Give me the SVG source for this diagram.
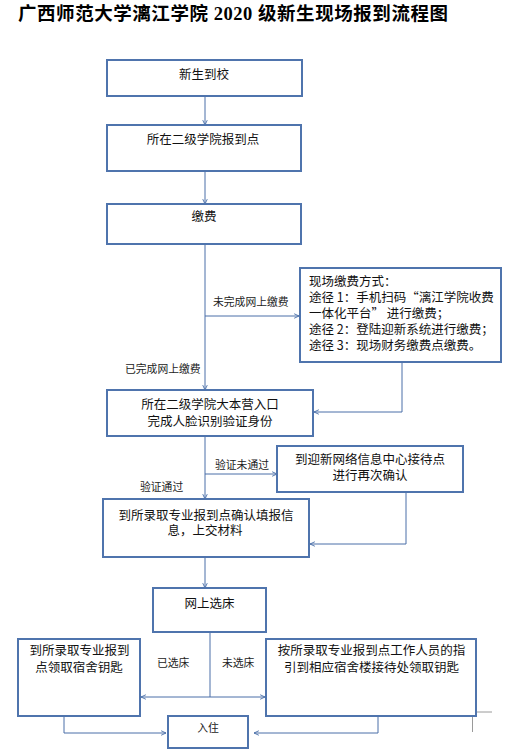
<svg xmlns="http://www.w3.org/2000/svg" width="514" height="753" viewBox="0 0 514 753">
<defs>
<marker id="arr" viewBox="0 0 8 8" refX="7.5" refY="4" markerWidth="6" markerHeight="6" orient="auto" markerUnits="userSpaceOnUse">
<path d="M1,1 L7.5,4 L1,7" fill="none" stroke="#4a6fa8" stroke-width="1.2"/>
</marker>
<style>
.box{fill:#fff;stroke:#4f74ad;stroke-width:2}
.t{font-family:"Noto Sans CJK SC","Liberation Sans",sans-serif;font-size:12.5px;fill:#111}
.c{text-anchor:middle}
.lb{font-family:"Noto Sans CJK SC","Liberation Sans",sans-serif;font-size:10.8px;fill:#222}
.ln{fill:none;stroke:#4a6fa8;stroke-width:1}
.crop{fill:none;stroke:#9a9a9a;stroke-width:1}
</style>
</defs>
<rect width="514" height="753" fill="#fff"/>
<text x="18" y="20" font-family="Liberation Serif,Noto Sans CJK SC,serif" font-weight="bold" font-size="18.5" fill="#000" textLength="430" lengthAdjust="spacing">广西师范大学漓江学院 2020 级新生现场报到流程图</text>

<g id="connectors">
<path class="ln" d="M205,96 V125" marker-end="url(#arr)"/>
<path class="ln" d="M205,171 V204" marker-end="url(#arr)"/>
<path class="ln" d="M205,244 V390" marker-end="url(#arr)"/>
<path class="ln" d="M205,316 H299" marker-end="url(#arr)"/>
<path class="ln" d="M402,362 V412 H314" marker-end="url(#arr)"/>
<path class="ln" d="M205,436 V499" marker-end="url(#arr)"/>
<path class="ln" d="M205,474 H277" marker-end="url(#arr)"/>
<path class="ln" d="M406,492 V544 H310" marker-end="url(#arr)"/>
<path class="ln" d="M205,557 V588" marker-end="url(#arr)"/>
<path class="ln" d="M210,632 V697"/>
<path class="ln" d="M210,697 H141" marker-end="url(#arr)"/>
<path class="ln" d="M210,697 H265" marker-end="url(#arr)"/>
<path class="ln" d="M64,716 V733 H166" marker-end="url(#arr)"/>
<path class="ln" d="M378,716 V733 H254" marker-end="url(#arr)"/>
<text class="lb" x="213" y="306">未完成网上缴费</text>
<text class="lb" x="125" y="373">已完成网上缴费</text>
<text class="lb" x="215" y="469">验证未通过</text>
<text class="lb" x="140" y="491">验证通过</text>
<text class="lb" x="157" y="667">已选床</text>
<text class="lb" x="222" y="667">未选床</text>
</g>

<g id="n1"><rect class="box" x="107" y="60" width="195" height="36"/><text class="t c" x="204" y="78.5">新生到校</text></g>
<g id="n2"><rect class="box" x="107" y="125" width="194" height="46"/><text class="t c" x="203" y="143.5">所在二级学院报到点</text></g>
<g id="n3"><rect class="box" x="107" y="204" width="194" height="40"/><text class="t c" x="204" y="220.5">缴费</text></g>
<g id="n4"><rect class="box" x="300" y="268" width="201" height="94"/>
<text class="t" x="309" y="285.5">现场缴费方式：</text>
<text class="t" x="309" y="301.5">途径 1：手机扫码“漓江学院收费</text>
<text class="t" x="309" y="317.5">一体化平台” 进行缴费；</text>
<text class="t" x="309" y="333.5">途径 2：登陆迎新系统进行缴费；</text>
<text class="t" x="309" y="349.5">途径 3：现场财务缴费点缴费。</text>
</g>
<g id="n5"><rect class="box" x="107" y="390" width="206" height="46"/><text class="t c" x="210" y="408.5">所在二级学院大本营入口</text><text class="t c" x="210" y="425.5">完成人脸识别验证身份</text></g>
<g id="n6"><rect class="box" x="277" y="446" width="186" height="46"/><text class="t c" x="370" y="463.5">到迎新网络信息中心接待点</text><text class="t c" x="370" y="479.5">进行再次确认</text></g>
<g id="n7"><rect class="box" x="103" y="499" width="206" height="58"/><text class="t c" x="206" y="519.5">到所录取专业报到点确认填报信</text><text class="t c" x="205" y="535">息，上交材料</text></g>
<g id="n8"><rect class="box" x="153" y="588" width="113" height="44"/><text class="t c" x="209.5" y="607.5">网上选床</text></g>
<g id="n9"><rect class="box" x="18" y="639" width="122" height="77"/><text class="t c" x="79.5" y="655">到所录取专业报到</text><text class="t c" x="79" y="672">点领取宿舍钥匙</text></g>
<g id="n10"><rect class="box" x="266" y="639" width="210" height="77"/><text class="t c" x="371.5" y="655">按所录取专业报到点工作人员的指</text><text class="t c" x="371.5" y="672">引到相应宿舍楼接待处领取钥匙</text></g>
<g id="n11"><rect class="box" x="168" y="716" width="80" height="32"/><text class="lb c" x="208" y="732" style="text-anchor:middle">入住</text></g>

<path class="crop" d="M477,712 H492 M472.5,717 V732"/>
</svg>
